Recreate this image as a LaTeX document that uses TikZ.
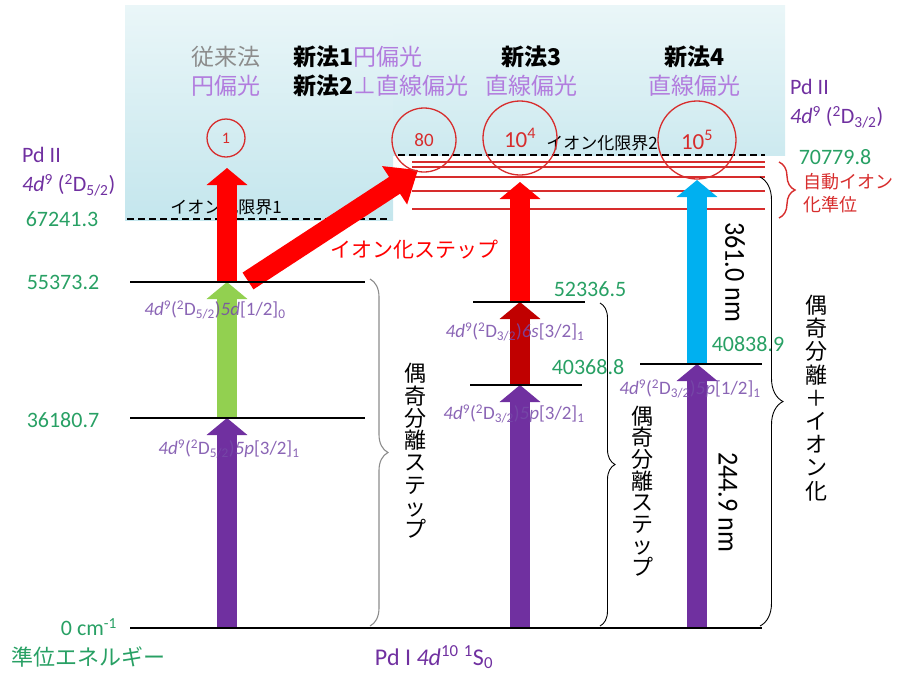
\documentclass[tikz,border=0pt]{standalone}
\usepackage{fontspec}
\setmainfont{Carlito}
\newfontfamily\jp{Noto Sans CJK JP}
\usetikzlibrary{arrows.meta,decorations.pathreplacing}
\definecolor{bgtop}{RGB}{234,246,248}
\definecolor{bgbot}{RGB}{196,230,237}
\definecolor{pur}{RGB}{112,48,160}
\definecolor{lpur}{RGB}{118,74,168}
\definecolor{hpur}{RGB}{178,125,222}
\definecolor{grn}{RGB}{40,160,100}
\definecolor{lgrn}{RGB}{146,208,80}
\definecolor{dred}{RGB}{192,0,0}
\definecolor{cyanarr}{RGB}{0,176,240}
\definecolor{lred}{RGB}{215,45,45}
\definecolor{gry}{RGB}{140,140,140}
\newcommand\fdn{\textit{4d}\textsuperscript{9}}
\tikzset{
  bar/.style={line width=20pt,-{Triangle[length=17pt,width=40pt]}},
  lvl/.style={line width=1.6pt,black},
  dashlvl/.style={line width=1.8pt,black,dash pattern=on 7pt off 4pt},
  autolvl/.style={line width=1.4pt,lred},
  num/.style={text=grn,font=\fontsize{22}{22}\selectfont,inner sep=0pt},
  lab/.style={text=lpur,text opacity=0.85,font=\fontsize{19}{19}\selectfont,inner sep=0pt},
  pdlab/.style={text=pur,font=\fontsize{22}{22}\selectfont,inner sep=0pt,anchor=west},
  circ/.style={circle,draw=lred,line width=1.3pt,text=lred,inner sep=0pt},
  head/.style={font=\jp\fontsize{23}{23}\selectfont,inner sep=0pt},
  vtxt/.style={align=center,font=\jp\fontsize{22}{#1}\selectfont,inner sep=0pt},
  brc/.style={decorate,decoration={brace,amplitude=#1}},
  jlim/.style={font=\jp\fontsize{17}{17}\selectfont,inner sep=0pt},
  wl/.style={font=\fontsize{29}{29}\selectfont,inner sep=0pt,rotate=-90},
}
\begin{document}
\begin{tikzpicture}[x=1pt,y=-1pt]
\useasboundingbox (0,0) rectangle (904,673);
% background
\shade[top color=bgtop,bottom color=bgbot] (125,5) rectangle (393,220);
\shade[top color=bgtop,bottom color=bgbot!85!white] (393,5) rectangle (785,155);
% headers
\node[head,text=gry] (h0a) at (226,57) {従来法};
\node[head,text=hpur] (h0b) at (226,86) {円偏光};
\node[head,anchor=west] (h1) at (293,57) {{\bfseries 新法1}\textcolor{hpur}{円偏光}};
\node[head,anchor=west] (h2) at (293,86) {{\bfseries 新法2}\textcolor{hpur}{⊥直線偏光}};
\node[head] (h3a) at (531,57) {\bfseries 新法3};
\node[head,text=hpur] (h3b) at (531,86) {直線偏光};
\node[head] (h4a) at (694,57) {\bfseries 新法4};
\node[head,text=hpur] (h4b) at (694,86) {直線偏光};
% ionization limits
\coordinate (il1a) at (127,219); \coordinate (il1b) at (390,219);
\coordinate (il2a) at (398,155); \coordinate (il2b) at (765,155);
\draw[dashlvl] (il1a) -- (il1b);
\draw[dashlvl] (il2a) -- (il2b);
\node[jlim] (t1) at (226,207) {イオン化限界1};
\node[jlim] (t2) at (602,143) {イオン化限界2};
% autoionization levels
\foreach \yy/\nm in {162/a,167/b,177/c,191/d,209/e}{
  \coordinate (ra\nm) at (412,\yy); \coordinate (rb\nm) at (765,\yy);
  \draw[autolvl] (ra\nm) -- (rb\nm);
}
% level coordinates
\coordinate (g1) at (227,628); \coordinate (a1) at (227,418); \coordinate (b1) at (227,282); \coordinate (c1) at (227,168);
\coordinate (g3) at (520,628); \coordinate (a3) at (520,385); \coordinate (b3) at (520,302); \coordinate (c3) at (520,182);
\coordinate (g4) at (697,628); \coordinate (a4) at (697,364); \coordinate (c4) at (697,180);
\coordinate (d0) at (248,281); \coordinate (d1) at (418,170);
% arrows
\draw[bar,pur] (g1) -- (a1);
\draw[bar,lgrn] (a1) -- (b1);
\draw[bar,red] (b1) -- (c1);
\draw[line width=20pt,red,-{Triangle[length=28pt,width=44pt]}] (d0) -- (d1);
\draw[bar,pur] (g3) -- (a3);
\draw[bar,dred] (a3) -- (b3);
\draw[bar,red] (b3) -- (c3);
\draw[bar,pur] (g4) -- (a4);
\draw[bar,cyanarr] (a4) -- (c4);
% level lines
\coordinate (z0) at (130,628); \coordinate (z1) at (762,628);
\draw[lvl] (z0) -- (z1);
\coordinate (p0) at (130,418); \coordinate (p1) at (365,418);
\draw[lvl] (p0) -- (p1);
\coordinate (q0) at (130,282); \coordinate (q1) at (365,282);
\draw[lvl] (q0) -- (q1);
\coordinate (s0) at (473,302); \coordinate (s1) at (585,302);
\draw[lvl] (s0) -- (s1);
\coordinate (u0) at (470,385); \coordinate (u1) at (582,385);
\draw[lvl] (u0) -- (u1);
\coordinate (v0) at (640,364); \coordinate (v1) at (762,364);
\draw[lvl] (v0) -- (v1);
% level labels (over the arrows, partly blending)
\node[lab] (L1) at (215,310) {\fdn(\textsuperscript{2}D\textsubscript{5/2})\textit{5d}[1/2]\textsubscript{0}};
\node[lab] (L2) at (229,449) {\fdn(\textsuperscript{2}D\textsubscript{5/2})\textit{5p}[3/2]\textsubscript{1}};
\node[lab] (L3) at (515,332) {\fdn(\textsuperscript{2}D\textsubscript{3/2})\textit{6s}[3/2]\textsubscript{1}};
\node[lab] (L4) at (514,414) {\fdn(\textsuperscript{2}D\textsubscript{3/2})\textit{5p}[3/2]\textsubscript{1}};
\node[lab] (L5) at (690,389) {\fdn(\textsuperscript{2}D\textsubscript{3/2})\textit{5p}[1/2]\textsubscript{1}};
% energies
\node[num] (e1) at (62,219) {67241.3};
\node[num] (e2) at (63,282) {55373.2};
\node[num] (e3) at (63,420) {36180.7};
\node[num] (e0) at (89,627) {0 cm\textsuperscript{-1}};
\node[num] (e4) at (590,289) {52336.5};
\node[num] (e5) at (588,367) {40368.8};
\node[num] (e6) at (748,344) {40838.9};
\node[num] (e7) at (835,157) {70779.8};
\node[text=grn,font=\jp\fontsize{22}{22}\selectfont,inner sep=0pt] (en) at (88,657) {準位エネルギー};
\node[text=pur,font=\fontsize{24}{24}\selectfont,inner sep=0pt] (pd1) at (434,657) {Pd I \textit{4d}\textsuperscript{10} \textsuperscript{1}S\textsubscript{0}};
% Pd II labels
\node[pdlab] (pl1) at (22,155) {Pd II};
\node[pdlab] (pl2) at (22,185) {\textit{4d}\textsuperscript{9} (\textsuperscript{2}D\textsubscript{5/2})};
\node[pdlab] (pr1) at (790,87) {Pd II};
\node[pdlab] (pr2) at (790,117) {\textit{4d}\textsuperscript{9} (\textsuperscript{2}D\textsubscript{3/2})};
% autoionization
\node[text=lred,font=\jp\fontsize{18}{18}\selectfont,inner sep=0pt,anchor=west] (ai1) at (803,182) {自動イオン};
\node[text=lred,font=\jp\fontsize{18}{18}\selectfont,inner sep=0pt,anchor=west] (ai2) at (803,205) {化準位};
\coordinate (rba) at (779,162); \coordinate (rbb) at (779,218);
\draw[brc=16pt,lred,line width=1.4pt] (rba) -- (rbb);
% ionization step label
\node[text=red,font=\jp\fontsize{21}{21}\selectfont,inner sep=0pt] (ist) at (414,250) {イオン化ステップ};
% braces
\coordinate (br1a) at (370,279); \coordinate (br1b) at (370,626);
\draw[brc=18pt,gry,line width=1.1pt] (br1a) -- (br1b);
\coordinate (br3a) at (600,303); \coordinate (br3b) at (600,626);
\draw[brc=15pt,black,line width=0.9pt] (br3a) -- (br3b);
\coordinate (br4a) at (760,177); \coordinate (br4b) at (760,626);
\draw[brc=23pt,black,line width=0.9pt] (br4a) -- (br4b);
\node[vtxt=22.3] (v1) at (415,451) {偶\\奇\\分\\離\\ス\\テ\\ッ\\プ};
\node[vtxt=21.6] (v3) at (642,491) {偶\\奇\\分\\離\\ス\\テ\\ッ\\プ};
\node[vtxt=23.2] (v4) at (816,398) {偶\\奇\\分\\離\\＋\\イ\\オ\\ン\\化};
% wavelengths
\node[wl] (w1) at (735,272) {\scalebox{0.9}[1]{361.0 nm}};
\node[wl] (w2) at (728,502) {\scalebox{0.9}[1]{244.9 nm}};
% circles
\node[circ,minimum size=38pt,font=\fontsize{16}{16}\selectfont] (k1) at (226,138) {1};
\node[circ,minimum size=64pt,font=\fontsize{19}{19}\selectfont] (k2) at (424,140) {80};
\node[circ,minimum size=74pt,font=\fontsize{23}{23}\selectfont] (k3) at (520,138) {10\textsuperscript{4}};
\node[circ,minimum size=78pt,font=\fontsize{23}{23}\selectfont] (k4) at (697,140) {10\textsuperscript{5}};
\end{tikzpicture}
\end{document}
